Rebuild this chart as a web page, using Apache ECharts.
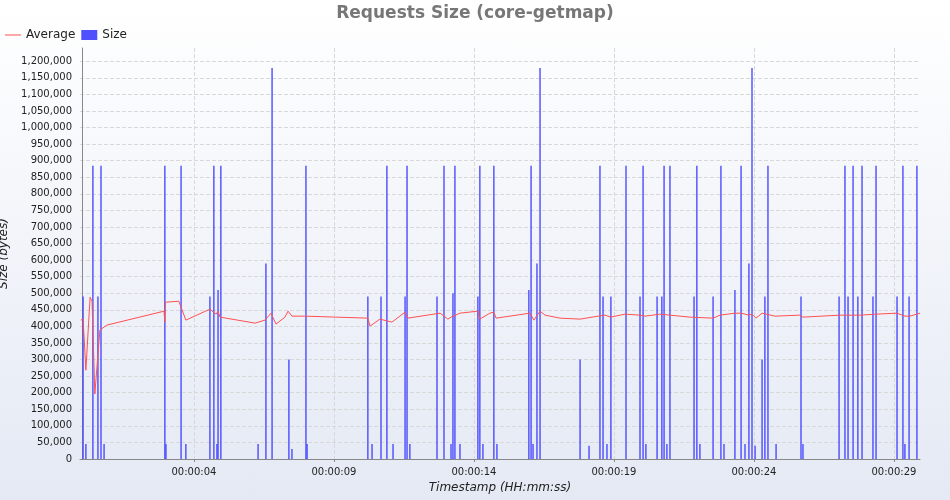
<!DOCTYPE html>
<html>
<head>
<meta charset="utf-8">
<title>Requests Size</title>
<script src="https://cdn.jsdelivr.net/npm/echarts@6/dist/echarts.min.js"></script>
<style>
  * { margin: 0; padding: 0; }
  body { background: linear-gradient(#ffffff, #e4e9f4); }
</style>
</head>
<body>
<div id="main" style="width: 950px; height: 500px;"></div>
<script>
// seconds from start, bytes
var sizeData = [
  [0.04,490000],[0.14,45000],[0.39,885000],[0.57,490000],[0.68,885000],[0.79,45000],
  [2.96,885000],[3.0,45000],[3.54,885000],[3.71,45000],[4.57,490000],[4.71,885000],
  [4.82,45000],[4.86,510000],[4.96,885000],[6.29,45000],[6.57,590000],[6.79,1180000],
  [7.39,300000],[7.5,30000],[8.0,885000],[8.04,45000],[10.21,490000],[10.36,45000],
  [10.68,490000],[10.89,885000],[11.11,45000],[11.54,490000],[11.61,885000],[11.71,45000],
  [12.68,490000],[12.93,885000],[13.18,45000],[13.25,500000],[13.32,885000],[13.5,45000],
  [14.14,490000],[14.21,885000],[14.32,45000],[14.71,885000],[14.82,45000],[15.96,510000],
  [16.04,885000],[16.11,45000],[16.25,590000],[16.36,1180000],[17.79,300000],[18.11,40000],
  [18.5,885000],[18.61,490000],[18.75,45000],[18.89,490000],[19.43,885000],[19.93,490000],
  [20.04,885000],[20.14,45000],[20.54,490000],[20.71,490000],[20.79,885000],[20.89,45000],
  [21.0,885000],[21.86,490000],[21.96,885000],[22.07,45000],[22.54,490000],[22.82,885000],
  [22.93,45000],[23.32,510000],[23.54,885000],[23.68,45000],[23.82,590000],[23.93,1180000],
  [24.04,40000],[24.29,300000],[24.39,490000],[24.5,885000],[24.79,45000],[25.68,490000],
  [25.75,45000],[27.04,490000],[27.25,885000],[27.36,490000],[27.54,885000],[27.71,490000],
  [27.86,885000],[28.25,490000],[28.36,885000],[29.11,490000],[29.32,885000],[29.39,45000],
  [29.54,490000],[29.82,885000]
];
var averageData = [
  [-0.04,419000],[0.04,422000],[0.14,268000],[0.29,488000],[0.36,476000],[0.46,196000],
  [0.64,389000],[0.68,392000],[0.89,404000],[2.93,446000],[2.96,413000],[2.98,473000],
  [3.46,476000],[3.71,419000],[4.57,452000],[4.79,437000],[4.86,446000],[4.93,428000],
  [6.18,410000],[6.54,419000],[6.75,440000],[6.93,407000],[7.25,428000],[7.36,446000],
  [7.5,431000],[7.96,431000],[8.0,425000],[10.21,425000],[10.29,401000],[10.64,422000],
  [11.07,413000],[11.54,443000],[11.64,425000],[12.79,440000],[13.07,422000],[13.18,428000],
  [13.5,440000],[14.14,446000],[14.21,422000],[14.57,440000],[14.71,443000],[14.79,425000],
  [16.0,440000],[16.14,419000],[16.36,446000],[16.54,434000],[17.07,425000],[17.79,422000],
  [18.43,431000],[18.68,434000],[18.89,428000],[19.39,437000],[19.93,434000],[20.11,431000],
  [20.64,437000],[21.0,434000],[21.71,428000],[22.54,425000],[22.79,434000],[23.32,440000],
  [23.54,440000],[23.82,434000],[23.93,437000],[24.07,425000],[24.29,440000],[24.75,431000],
  [25.64,434000],[25.75,428000],[27.07,434000],[27.79,434000],[28.36,437000],[29.11,440000],
  [29.39,431000],[29.57,431000],[29.93,440000]
];
var xTicks = [4, 9, 14, 19, 24, 29];

function fmtTime(s) {
  var t = Math.round(s);
  var pad = function (n) { return (n < 10 ? '0' : '') + n; };
  return pad(Math.floor(t / 3600)) + ':' + pad(Math.floor(t / 60) % 60) + ':' + pad(t % 60);
}

var myChart = echarts.init(document.getElementById('main'));
var font = 'DejaVu Sans';
myChart.setOption({
  animation: false,
  textStyle: { fontFamily: font },
  title: {
    text: 'Requests Size (core-getmap)', left: 'center', top: 0,
    textStyle: { fontSize: 17, fontWeight: 'bold', color: '#777777', fontFamily: font }
  },
  legend: {
    left: 0, top: 24, itemGap: 6, itemWidth: 16, itemHeight: 10,
    textStyle: { fontSize: 12, color: '#222' },
    data: [
      { name: 'Average', icon: 'path://M0,5L16,5L16,6L0,6Z' },
      { name: 'Size', icon: 'rect', itemStyle: { color: '#5050ff' } }
    ]
  },
  grid: { left: 80, right: 30, top: 48, bottom: 41, outerBoundsMode: 'none', containLabel: false },
  xAxis: {
    type: 'value', min: -0.07, max: 29.93,
    name: 'Timestamp (HH:mm:ss)', nameLocation: 'middle', nameGap: 22,
    nameTextStyle: { fontStyle: 'italic', fontSize: 12, color: '#222' },
    axisLine: { lineStyle: { color: '#888' } },
    axisTick: { customValues: xTicks, lineStyle: { color: '#888' }, length: 3 },
    axisLabel: { customValues: xTicks, formatter: fmtTime, fontSize: 10, color: '#222' },
    splitLine: { show: true, lineStyle: { type: 'dashed', color: '#d8d8d8' } }
  },
  yAxis: {
    type: 'value', min: 0, max: 1240000, interval: 50000,
    name: 'Size (bytes)', nameLocation: 'middle', nameGap: 64,
    nameTextStyle: { fontStyle: 'italic', fontSize: 12, color: '#222' },
    axisLine: { show: true, lineStyle: { color: '#888' } },
    axisTick: { show: false },
    axisLabel: { fontSize: 10, color: '#222', showMaxLabel: false,
      formatter: function (v) { return v.toLocaleString('en-US'); } },
    splitLine: { lineStyle: { type: 'dashed', color: '#d8d8d8' }, showMaxLine: false }
  },
  series: [
    {
      name: 'Size', type: 'bar', data: sizeData, barWidth: 1.6, barGap: '-100%',
      itemStyle: { color: 'rgba(70,70,255,0.85)' }
    },
    {
      name: 'Average', type: 'line', data: averageData, symbol: 'none',
      lineStyle: { color: '#ff5050', width: 1 }, itemStyle: { color: '#ff5050' }
    }
  ]
});
window.addEventListener('resize', function () { myChart.resize(); });
</script>
</body>
</html>
